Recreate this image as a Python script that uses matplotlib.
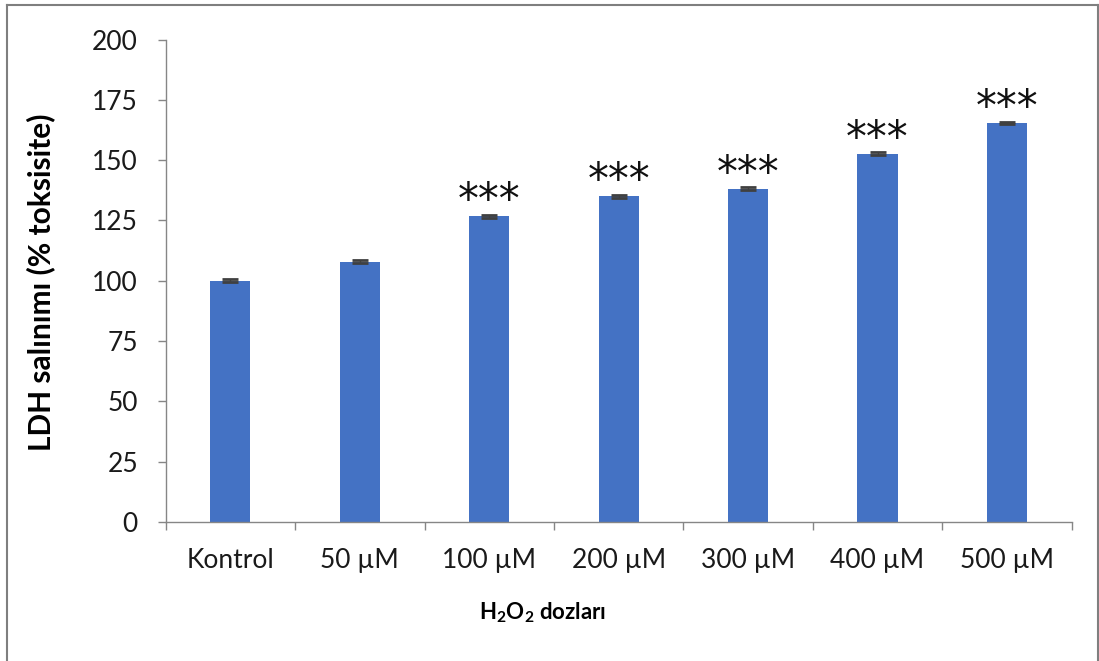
import numpy as np
import matplotlib
matplotlib.use('Agg')
import matplotlib.pyplot as plt
from matplotlib.lines import Line2D

# LDH release per H2O2 dose (% toxicity, control = 100)
doses = ['Kontrol', '50 µM', '100 µM', '200 µM', '300 µM', '400 µM', '500 µM']
ldh_release = [100.0, 107.9, 126.8, 135.1, 138.2, 152.7, 165.4]
ldh_error = [0.6, 0.6, 0.6, 0.6, 0.6, 0.6, 0.6]
significance = ['', '', '***', '***', '***', '***', '***']
y_ticks = [0, 25, 50, 75, 100, 125, 150, 175, 200]

BAR_COLOR = '#4472C4'
AXIS_COLOR = '#868686'
FRAME_COLOR = '#7f7f7f'

plt.rcParams['font.family'] = ['Lato', 'DejaVu Sans']
plt.rcParams['mathtext.fontset'] = 'custom'
plt.rcParams['mathtext.rm'] = 'Lato'
plt.rcParams['mathtext.bf'] = 'Lato:bold'


def plot_ldh(save_path='out.png'):
    """
    Bar chart of LDH release for each H2O2 dose with significance stars
    """
    W, H = 1099, 661
    fig = plt.figure(figsize=(W / 100, H / 100), dpi=100)
    fig.patch.set_facecolor('white')

    left, right, top, bottom = 165.7, 1071.7, 39.5, 522.0
    ax = fig.add_axes([left / W, 1 - bottom / H, (right - left) / W, (bottom - top) / H])

    x = np.arange(len(doses))
    ax.bar(x, ldh_release, width=0.31, color=BAR_COLOR, zorder=2)
    ax.errorbar(x, ldh_release, yerr=ldh_error, fmt='none', ecolor='#404040',
                elinewidth=1.0, capsize=5.5, capthick=2.0, zorder=3)

    # significance stars above the treated groups
    for xi, val, star in zip(x, ldh_release, significance):
        if star:
            ax.text(xi, val - 2.5, star, ha='center', va='bottom',
                    fontsize=30, family='DejaVu Sans', color='#111111')

    ax.set_xlim(-0.5, len(doses) - 0.5)
    ax.set_ylim(0, 200)
    ax.set_yticks(y_ticks)
    ax.set_xticks(x)
    ax.set_xticklabels(doses)
    ax.set_xticks(np.arange(len(doses) + 1) - 0.5, minor=True)

    for side in ['top', 'right']:
        ax.spines[side].set_visible(False)
    for side in ['left', 'bottom']:
        ax.spines[side].set_color(AXIS_COLOR)
        ax.spines[side].set_linewidth(1.0)

    ax.tick_params(axis='y', which='major', length=6, width=1, color=AXIS_COLOR,
                   pad=14, labelsize=19, labelcolor='#1a1a1a')
    ax.tick_params(axis='x', which='major', length=0, pad=19,
                   labelsize=19, labelcolor='#1a1a1a')
    ax.tick_params(axis='x', which='minor', length=6, width=1, color=AXIS_COLOR)

    # Axis titles placed in figure coordinates
    fig.text(41 / W, 1 - 282 / H, 'LDH salınımı (% toksisite)', rotation=90,
             ha='center', va='center', fontsize=21.5, fontweight='bold', color='black')
    fig.text(543 / W, 1 - 613 / H, r'H$_\mathbf{2}$O$_\mathbf{2}$ dozları',
             ha='center', va='center', fontsize=16, fontweight='bold', color='black')

    # Outer frame (open at the bottom edge)
    lw = 1.5
    fig.add_artist(Line2D([6.5 / W, 6.5 / W], [0, 1 - 5 / H], transform=fig.transFigure,
                          color=FRAME_COLOR, linewidth=lw))
    fig.add_artist(Line2D([6.5 / W, 1097.5 / W], [1 - 5 / H, 1 - 5 / H],
                          transform=fig.transFigure, color=FRAME_COLOR, linewidth=lw))
    fig.add_artist(Line2D([1097.5 / W, 1097.5 / W], [0, 1 - 5 / H], transform=fig.transFigure,
                          color=FRAME_COLOR, linewidth=lw))

    fig.savefig(save_path, dpi=100)
    plt.close(fig)


if __name__ == "__main__":
    plot_ldh()
